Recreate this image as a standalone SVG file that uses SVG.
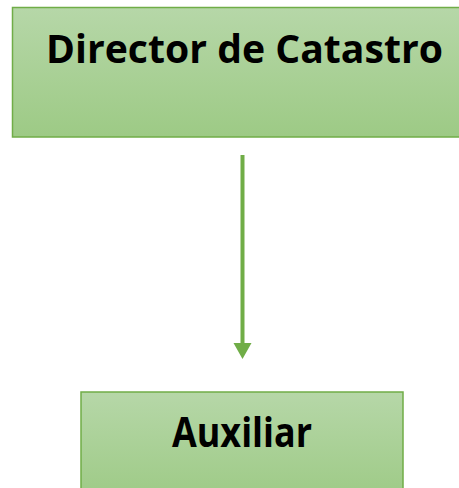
<svg xmlns="http://www.w3.org/2000/svg" width="459" height="488" viewBox="0 0 459 488">
  <style>
    .box { stroke: #70ad47; stroke-width: 1.5; }
    .lbl { font-family: "Open Sans", "Liberation Sans", sans-serif; font-weight: bold; fill: #000; }
    .conn { stroke: #70ad47; stroke-width: 4; fill: none; }
    .head { fill: #70ad47; }
  </style>
  <defs>
    <linearGradient id="g" x1="0" y1="0" x2="0" y2="1">
      <stop offset="0" stop-color="#b6d7a8"/>
      <stop offset="1" stop-color="#9dca85"/>
    </linearGradient>
  </defs>
  <g id="director">
    <rect class="box" x="12.5" y="7.5" width="460" height="129.5" fill="url(#g)"/>
    <text class="lbl" x="46" y="63" font-size="40" textLength="397" lengthAdjust="spacingAndGlyphs">Director de Catastro</text>
  </g>
  <g id="auxiliar">
    <rect class="box" x="81" y="392" width="322" height="110" fill="url(#g)"/>
    <text class="lbl" x="172" y="447" font-size="41" textLength="140" lengthAdjust="spacingAndGlyphs">Auxiliar</text>
  </g>
  <g id="connectors">
    <line class="conn" x1="242.5" y1="155" x2="242.5" y2="345"/>
    <path class="head" d="M233.5,343 L251.5,343 L242.5,359 Z"/>
  </g>
</svg>
